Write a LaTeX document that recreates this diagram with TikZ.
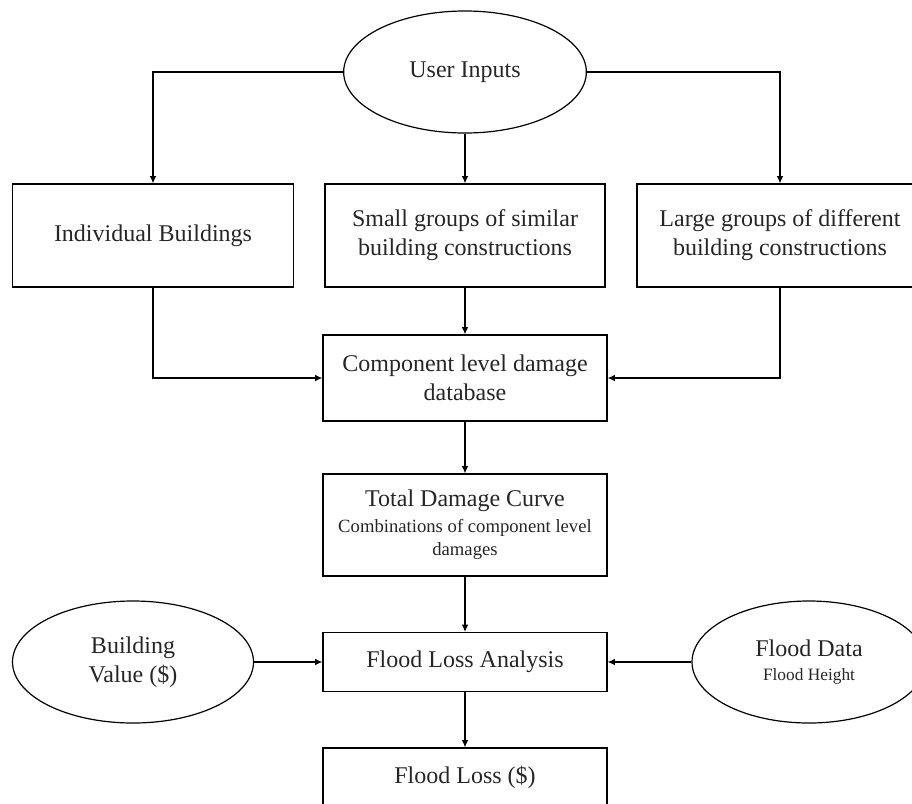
\documentclass[tikz,border=0pt]{standalone}
\usepackage{fontspec}
\setmainfont{Liberation Serif}
\usetikzlibrary{shapes.geometric,arrows.meta}
\begin{document}
\begin{tikzpicture}[x=0.75pt,y=-0.75pt,
  every node/.style={font=\fontsize{18}{21.6}\selectfont, text=black!85, align=center, inner sep=0pt},
  boxnode/.style={draw=black, line width=0.9pt, rectangle},
  ellnode/.style={draw=black, line width=0.9pt, ellipse, minimum width=182pt, minimum height=91.5pt},
  arr/.style={draw=black, line width=0.9pt, -{Latex[length=5.5pt,width=5pt]}},
  ln/.style={draw=black, line width=0.9pt}]
\useasboundingbox (0,0) rectangle (912,803);
\node[ellnode] (ui) at (465,72) {User Inputs};
\node[boxnode, minimum width=210.75pt, minimum height=77.25pt] (b1) at (153,235.5) {Individual Buildings};
\node[boxnode, minimum width=210pt, minimum height=77.25pt] (b2) at (465,235.5) {Small groups of similar\\building constructions};
\node[boxnode, minimum width=214.5pt, minimum height=77.25pt] (b3) at (780,235.5) {Large groups of different\\building constructions};
\node[boxnode, minimum width=213pt, minimum height=64.5pt] (comp) at (465,378) {Component level damage\\database};
\node[boxnode, minimum width=213pt, minimum height=76.5pt] (tdc) at (465,525) {Total Damage Curve\\[-2pt]{\fontsize{14}{17}\selectfont Combinations of component level}\\[-4.4pt]{\fontsize{14}{17}\selectfont damages}};
\node[boxnode, minimum width=213pt, minimum height=44.25pt] (fla) at (465,662) {Flood Loss Analysis};
\node[boxnode, minimum width=213pt, minimum height=43.5pt] (fl) at (465,777) {Flood Loss (\$)};
\node[ellnode, minimum width=180.75pt] (bv) at (133,662) {Building\\Value (\$)};
\node[ellnode, minimum width=175.5pt] (fd) at (809,662) {Flood Data\\[-3.6pt]{\fontsize{13}{15}\selectfont Flood Height}};
\draw[arr] (ui.west) -| (b1.north);
\draw[arr] (ui.east) -| (b3.north);
\draw[arr] (ui.south) -- (b2.north);
\draw[arr] (b1.south) |- (comp.west);
\draw[arr] (b3.south) |- (comp.east);
\draw[arr] (b2.south) -- (comp.north);
\draw[arr] (comp.south) -- (tdc.north);
\draw[arr] (tdc.south) -- (fla.north);
\draw[arr] (bv.east) -- (fla.west);
\draw[arr] (fd.west) -- (fla.east);
\draw[arr] (fla.south) -- (fl.north);
\end{tikzpicture}
\end{document}
